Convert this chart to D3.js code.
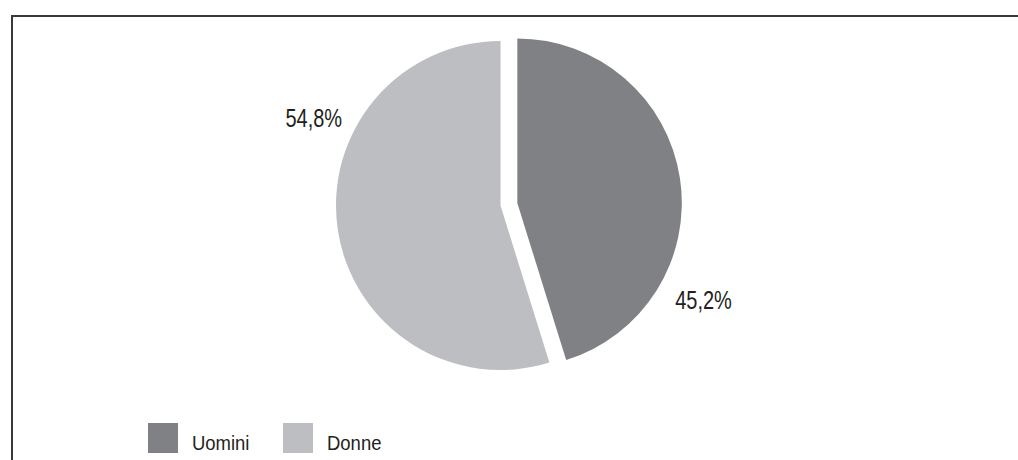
<!DOCTYPE html>
<html>
<head>
<meta charset="utf-8">
<script src="https://cdn.jsdelivr.net/npm/d3@7/dist/d3.min.js"></script>
<style>
  html, body { margin: 0; padding: 0; background: #fff; }
  svg { display: block; font-family: "Liberation Sans", Arial, sans-serif; }
</style>
</head>
<body>
<div id="chart"></div>
<script>
// data
const categories = ["Uomini", "Donne"];
const values = [45.2, 54.8];
const labels = ["45,2%", "54,8%"];
const colors = ["#808184", "#bdbec1"];

const width = 1018;
const height = 460;
const cx = 500.5, cy = 205.5;
const radius = 164.5;
const explode = [17, 0];
// label anchor: angle (clockwise from top) and distance from centre
const labelPos = [{ a: 115, d: 224 }, { a: 295, d: 206 }];

const svg = d3.select("#chart")
  .append("svg")
  .attr("width", width)
  .attr("height", height);

// frame (top and left edges)
svg.append("path")
  .attr("d", `M12,${height} V16 H${width}`)
  .attr("fill", "none")
  .attr("stroke", "#3a3a3a")
  .attr("stroke-width", 2);

const pie = d3.pie().sort(null).value(d => d)(values);
const arc = d3.arc().innerRadius(0).outerRadius(radius);

const g = svg.append("g").attr("transform", `translate(${cx},${cy})`);

g.selectAll("path.slice")
  .data(pie)
  .join("path")
  .attr("class", "slice")
  .attr("fill", (d, i) => colors[i])
  .attr("transform", (d, i) => {
    const mid = (d.startAngle + d.endAngle) / 2;
    return `translate(${Math.sin(mid) * explode[i]},${-Math.cos(mid) * explode[i]})`;
  })
  .attr("d", arc);

// condensed look: narrow the glyphs horizontally
g.selectAll("text.lbl")
  .data(pie)
  .join("text")
  .attr("class", "lbl")
  .attr("transform", (d, i) => {
    const a = labelPos[i].a * Math.PI / 180;
    return `translate(${Math.sin(a) * labelPos[i].d},${-Math.cos(a) * labelPos[i].d}) scale(0.8,1)`;
  })
  .attr("dy", "0.35em")
  .attr("text-anchor", "middle")
  .attr("fill", "#231f20")
  .style("font-size", "25px")
  .text((d, i) => labels[i]);

// legend
const legX = d3.scaleOrdinal().domain(categories).range([148, 283]);
const leg = svg.append("g")
  .selectAll("g")
  .data(categories)
  .join("g")
  .attr("transform", d => `translate(${legX(d)},423)`);

leg.append("rect")
  .attr("width", 30)
  .attr("height", 30)
  .attr("fill", (d, i) => colors[i]);

leg.append("text")
  .attr("transform", "translate(44,27) scale(0.88,1)")
  .attr("fill", "#231f20")
  .style("font-size", "21px")
  .text(d => d);
</script>
</body>
</html>
